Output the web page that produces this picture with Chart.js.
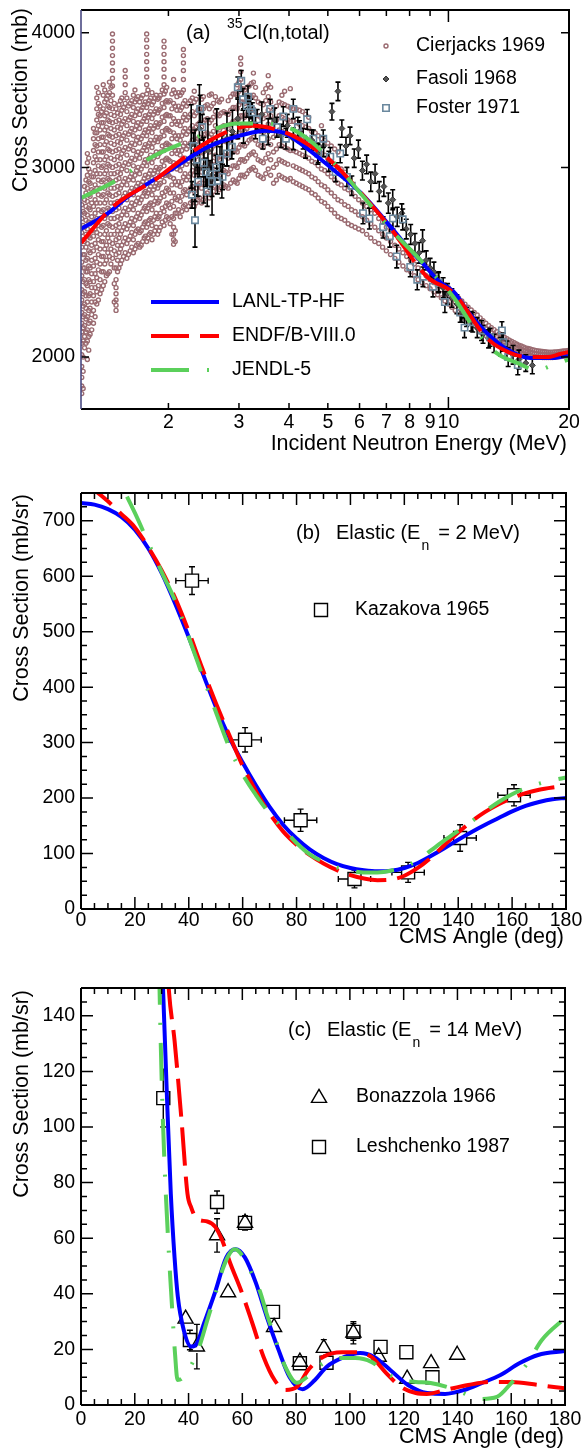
<!DOCTYPE html>
<html>
<head>
<meta charset="utf-8">
<title>35Cl cross sections</title>
<script src="https://cdn.jsdelivr.net/npm/chart.js@4.4.1/dist/chart.umd.min.js"></script>
<style>
  html, body { margin: 0; padding: 0; background: #fff; }
  #page { position: relative; width: 582px; height: 1453px; overflow: hidden; }
  #page canvas { position: absolute; left: 0; }
</style>
</head>
<body>
<div id="page">
  <canvas id="chartA" width="582" height="470" style="top:0px"></canvas>
  <canvas id="chartB" width="582" height="480" style="top:470px"></canvas>
  <canvas id="chartC" width="582" height="503" style="top:950px"></canvas>
</div>
<script>
// ---------------- panel (a): 35Cl(n,total) ----------------
const xTicksA = [2, 3, 4, 5, 6, 7, 8, 9, 10, 20];
const yTicksA = [2000, 3000, 4000];

// model curves (energy in MeV, cross section in mb)
const lanlE  = [1.21, 1.42, 1.56, 2.08, 2.52, 3.24, 3.5, 3.87, 4.26, 5.15, 6.02, 7.16, 8.02, 8.48, 9.45, 10.3, 11.3, 12.5, 14.0, 16.0, 18.2, 20.0];
const lanlS  = [2630, 2723, 2806, 3003, 3136, 3232, 3245, 3232, 3160, 2987, 2845, 2645, 2514, 2462, 2354, 2300, 2194, 2104, 2034, 1996, 1996, 2010];
const endfE  = [1.21, 1.45, 1.86, 2.29, 2.77, 3.24, 3.87, 4.26, 5.15, 6.12, 7.2, 8.84, 10.3, 12.5, 14.3, 16.0, 17.6, 19.0, 20.0];
const endfS  = [2553, 2756, 2925, 3101, 3232, 3280, 3238, 3184, 3029, 2827, 2630, 2375, 2293, 2082, 2017, 2000, 2000, 2013, 2022];
const jendlE = [1.21, 1.47, 1.82, 2.22, 2.99, 3.47, 4.19, 5.18, 6.1, 7.2, 8.5, 10.3, 11.7, 13.2, 15.0, 16.6, 18.2, 20.0];
const jendlS = [2810, 2912, 3068, 3170, 3296, 3296, 3238, 3029, 2825, 2625, 2462, 2273, 2117, 2017, 1972, 1945, 1966, 1990];

// Cierjacks 1969: energy columns and the cross sections read in each column
const cierE = [1.215, 1.235, 1.255, 1.275, 1.30, 1.325, 1.35, 1.375, 1.40, 1.425, 1.45, 1.48, 1.505, 1.53, 1.56, 1.59, 1.62, 1.65, 1.68, 1.71,
  1.74, 1.765, 1.79, 1.82, 1.85, 1.88, 1.91, 1.95, 1.98, 2.02, 2.06, 2.10, 2.14, 2.18, 2.22, 2.27, 2.32, 2.37, 2.42, 2.47,
  2.53, 2.59, 2.62, 2.68, 2.75, 2.82, 2.90, 2.97, 3.03, 3.10, 3.18, 3.26, 3.35, 3.45, 3.55, 3.66, 3.78, 3.90, 4.03, 4.17,
  4.32, 4.48, 4.65, 4.82, 5.00, 5.20, 5.40, 5.62, 5.85, 6.10, 6.40, 6.70, 7.00, 7.35, 7.70, 8.05, 8.40, 8.80, 9.20, 9.60,
  10.0, 10.4, 10.8, 11.2, 11.6, 12.0, 12.4, 12.8, 13.2, 13.6, 14.0, 14.4, 14.8, 15.2, 15.6, 16.0, 16.4, 16.8, 17.2, 17.6,
  18.0, 18.4, 18.8, 19.2, 19.6, 20.0];
const cierS = [
  [1850, 1880, 1915, 1960, 2010, 2060, 2110, 2150, 2200, 2260, 2310, 2380, 2450, 2530, 2610, 2690, 2770],
  [2040, 2090, 2140, 2190, 2240, 2300, 2360, 2420, 2490, 2560, 2640, 2720, 2800, 2880],
  [1990, 2070, 2120, 2180, 2250, 2330, 2400, 2470, 2550, 2630, 2710, 2790, 2870, 2950, 3030, 3090],
  [2100, 2160, 2220, 2290, 2350, 2420, 2500, 2580, 2660, 2740, 2820, 2900, 2970],
  [2150, 2210, 2280, 2350, 2430, 2510, 2590, 2670, 2760, 2850, 2940, 3030, 3110, 3190, 3260],
  [2240, 2300, 2370, 2450, 2530, 2610, 2690, 2780, 2870, 2960, 3050, 3140, 3230, 3320, 3400, 3480, 3560],
  [2290, 2360, 2440, 2520, 2600, 2690, 2780, 2870, 2960, 3050, 3150, 3250, 3350, 3420],
  [2330, 2400, 2480, 2560, 2650, 2740, 2830, 2920, 3010, 3100, 3200, 3300, 3400, 3500, 3580],
  [2380, 2460, 2540, 2620, 2710, 2800, 2890, 2980, 3070, 3170, 3270, 3370, 3470],
  [2400, 2480, 2560, 2650, 2740, 2830, 2920, 3010, 3110, 3210, 3310, 3410, 3520, 3600],
  [2470, 2550, 2640, 2730, 2820, 2910, 3000, 3100, 3200, 3300, 3400, 3500, 3570, 3630, 3690, 3750, 3810, 3870, 3930, 3990],
  [2210, 2235, 2260, 2290, 2320, 2360, 2420, 2490, 2570, 2650, 2740, 2830, 2920, 3010, 3110, 3210, 3310, 3400],
  [2420, 2500, 2580, 2660, 2750, 2840, 2930, 3020, 3120, 3220, 3320, 3430],
  [2460, 2540, 2620, 2710, 2800, 2890, 2990, 3090, 3190, 3290, 3390, 3480],
  [2500, 2580, 2660, 2750, 2840, 2930, 3030, 3130, 3230, 3330, 3440, 3520, 3580, 3640, 3690],
  [2490, 2570, 2650, 2740, 2830, 2920, 3020, 3120, 3220, 3320, 3420],
  [2530, 2610, 2690, 2780, 2870, 2960, 3060, 3160, 3260, 3360, 3460],
  [2520, 2600, 2680, 2770, 2860, 2950, 3050, 3150, 3250, 3350, 3450, 3540],
  [2550, 2630, 2720, 2810, 2900, 3000, 3100, 3200, 3300, 3400, 3490],
  [2540, 2620, 2710, 2800, 2890, 2990, 3090, 3190, 3290, 3390, 3480],
  [2580, 2660, 2750, 2840, 2930, 3030, 3130, 3230, 3330, 3430],
  [2560, 2640, 2730, 2820, 2910, 3010, 3110, 3210, 3310, 3410, 3510, 3580, 3640, 3700, 3760, 3820, 3880, 3940, 3990],
  [2600, 2680, 2770, 2860, 2960, 3060, 3160, 3260, 3360, 3460],
  [2570, 2650, 2740, 2830, 2930, 3030, 3130, 3230, 3330, 3430, 3520],
  [2620, 2700, 2790, 2880, 2980, 3080, 3180, 3280, 3380, 3480],
  [2600, 2690, 2780, 2870, 2970, 3070, 3170, 3270, 3370, 3470],
  [2640, 2720, 2810, 2900, 3000, 3100, 3200, 3300, 3400, 3500],
  [2650, 2730, 2820, 2910, 3010, 3110, 3210, 3310, 3410, 3510, 3580, 3640, 3700, 3760, 3820, 3880, 3930],
  [2700, 2780, 2870, 2960, 3060, 3160, 3260, 3360, 3460, 3560],
  [2660, 2750, 2840, 2940, 3040, 3140, 3240, 3350, 3460],
  [2545, 2570, 2600, 2640, 2690, 2760, 2840, 2930, 3030, 3130, 3230, 3330, 3440, 3540, 3620],
  [2720, 2800, 2890, 2990, 3090, 3190, 3290, 3390, 3490],
  [2700, 2790, 2880, 2980, 3080, 3180, 3280, 3390, 3500],
  [2760, 2850, 2940, 3040, 3140, 3240, 3340, 3440, 3540, 3620, 3690, 3750, 3810, 3860],
  [2740, 2830, 2920, 3020, 3120, 3220, 3320, 3420],
  [2780, 2870, 2960, 3060, 3160, 3260, 3360, 3460],
  [2760, 2850, 2950, 3050, 3150, 3250, 3350, 3450, 3530],
  [2800, 2890, 2990, 3090, 3190, 3290, 3390],
  [2780, 2870, 2970, 3070, 3170, 3270, 3370, 3470],
  [2830, 2920, 3020, 3120, 3220, 3320, 3420],
  [2810, 2900, 3000, 3100, 3200, 3300, 3400, 3500],
  [2850, 2940, 3040, 3140, 3240, 3340, 3440],
  [2880, 2980, 3080, 3180, 3280, 3380, 3490],
  [2860, 2950, 3050, 3150, 3250, 3350, 3450],
  [2890, 2980, 3080, 3180, 3280, 3380],
  [2870, 2960, 3060, 3160, 3260, 3360, 3460],
  [2920, 3010, 3110, 3210, 3310, 3410, 3510],
  [2900, 3000, 3100, 3200, 3300, 3400, 3500, 3580],
  [2950, 3050, 3150, 3250, 3350, 3450, 3550, 3620, 3680, 3740, 3790],
  [2940, 3040, 3140, 3240, 3340, 3440, 3540],
  [2980, 3080, 3180, 3280, 3380, 3480, 3570],
  [3000, 3100, 3200, 3300, 3400, 3500, 3600, 3670],
  [2950, 3050, 3150, 3250, 3350, 3450],
  [2930, 3030, 3130, 3230, 3330, 3430, 3520],
  [2990, 3090, 3190, 3290, 3390, 3490, 3580, 3650],
  [2900, 3000, 3100, 3200, 3300, 3400],
  [2950, 3050, 3150, 3250, 3350, 3450],
  [2930, 3030, 3130, 3230, 3330, 3430, 3530],
  [2930, 3110, 3210, 3310, 3410, 3550],
  [2900, 3000, 3100, 3200, 3300, 3400],
  [2880, 2980, 3080, 3180, 3280, 3380],
  [2860, 2960, 3060, 3160, 3260, 3340],
  [2830, 2930, 3030, 3130, 3230],
  [2790, 2890, 2990, 3090, 3190, 3280],
  [2760, 2860, 2960, 3060, 3160],
  [2720, 2820, 2920, 3020, 3120],
  [2690, 2790, 2890, 2990],
  [2660, 2760, 2860],
  [2640, 2730, 2820],
  [2620, 2700, 2780],
  [2580, 2660, 2740],
  [2550, 2620, 2690],
  [2510, 2580, 2640],
  [2470, 2540, 2600],
  [2430, 2500, 2550],
  [2400, 2460, 2510],
  [2360, 2420, 2470],
  [2330, 2380, 2430],
  [2300, 2345, 2390],
  [2270, 2310, 2350],
  [2240, 2280, 2320],
  [2210, 2250, 2285],
  [2185, 2220, 2255],
  [2160, 2195, 2225],
  [2140, 2170, 2200],
  [2115, 2145, 2175],
  [2095, 2125, 2150],
  [2080, 2105, 2130],
  [2065, 2090, 2112],
  [2050, 2073, 2095],
  [2040, 2060, 2080],
  [2030, 2050, 2068],
  [2022, 2040, 2057],
  [2015, 2032, 2048],
  [2010, 2026, 2040],
  [2005, 2020, 2035],
  [2002, 2016, 2030],
  [2000, 2013, 2026],
  [1998, 2011, 2024],
  [1998, 2010, 2022],
  [1998, 2010, 2021],
  [1999, 2011, 2022],
  [2001, 2012, 2023],
  [2003, 2014, 2025],
  [2005, 2016, 2027],
  [2008, 2019, 2030]
];
// Cierjacks 1969: the columns lying between the ones above
const cierE2 = [1.225, 1.245, 1.265, 1.287, 1.312, 1.337, 1.362, 1.387, 1.412, 1.437, 1.465, 1.493, 1.518, 1.545, 1.575, 1.605, 1.635, 1.665, 1.695, 1.725,
  1.752, 1.778, 1.805, 1.835, 1.865, 1.895, 1.93, 1.965, 2.00, 2.04, 2.08, 2.12, 2.16, 2.20, 2.245, 2.295, 2.345, 2.395, 2.445, 2.50,
  2.56, 2.65, 2.715, 2.785, 2.86, 2.935, 3.00, 3.065, 3.14, 3.22, 3.30, 3.40, 3.50, 3.60, 3.72, 3.84, 3.97, 4.10, 4.25, 4.40,
  4.56, 4.73, 4.91, 5.10, 5.30, 5.51, 5.73, 5.97, 6.25, 6.55, 6.85, 7.17, 7.52, 7.87, 8.22, 8.60, 9.00, 9.40, 9.80, 10.2,
  10.6, 11.0, 11.4, 11.8, 12.2, 12.6, 13.0, 13.4, 13.8, 14.2, 14.6, 15.0, 15.4, 15.8, 16.2, 16.6, 17.0, 17.4, 17.8, 18.2,
  18.6, 19.0, 19.4, 19.8];
const cierS2 = [
  [1870, 1940, 2000, 2070, 2130, 2180, 2230, 2290, 2350, 2420, 2490, 2570, 2650, 2730],
  [2060, 2110, 2170, 2220, 2280, 2340, 2400, 2460, 2530, 2600, 2680, 2760, 2840, 2920],
  [2030, 2090, 2150, 2210, 2280, 2360, 2430, 2510, 2590, 2670, 2750, 2830, 2910, 2990, 3060],
  [2120, 2190, 2250, 2320, 2390, 2460, 2540, 2620, 2700, 2780, 2860, 2940],
  [2180, 2250, 2320, 2390, 2470, 2550, 2630, 2720, 2800, 2890, 2980, 3070, 3150, 3230],
  [2260, 2330, 2410, 2490, 2570, 2650, 2740, 2830, 2920, 3010, 3100, 3190, 3280, 3360, 3440, 3520],
  [2310, 2400, 2480, 2560, 2640, 2730, 2820, 2910, 3000, 3100, 3200, 3300, 3380],
  [2350, 2440, 2520, 2600, 2690, 2780, 2870, 2960, 3050, 3150, 3250, 3350, 3450, 3540],
  [2390, 2500, 2580, 2660, 2750, 2840, 2930, 3020, 3120, 3220, 3320, 3420, 3500],
  [2440, 2520, 2600, 2690, 2780, 2870, 2960, 3060, 3160, 3260, 3360, 3460, 3560],
  [2250, 2340, 2420, 2510, 2600, 2690, 2780, 2870, 2960, 3050, 3150, 3250, 3350, 3440],
  [2400, 2460, 2540, 2620, 2700, 2790, 2880, 2970, 3070, 3170, 3270, 3370],
  [2440, 2520, 2600, 2690, 2780, 2870, 2960, 3060, 3160, 3260, 3360, 3460],
  [2480, 2560, 2640, 2730, 2820, 2910, 3010, 3110, 3210, 3310, 3410],
  [2470, 2550, 2630, 2710, 2800, 2890, 2980, 3080, 3180, 3280, 3380, 3480],
  [2510, 2590, 2670, 2760, 2850, 2940, 3040, 3140, 3240, 3340, 3440],
  [2500, 2570, 2650, 2740, 2830, 2920, 3010, 3110, 3210, 3310, 3410, 3500],
  [2540, 2620, 2700, 2790, 2880, 2980, 3080, 3180, 3280, 3380, 3470],
  [2530, 2610, 2690, 2780, 2870, 2960, 3060, 3160, 3260, 3360, 3450],
  [2560, 2640, 2730, 2820, 2910, 3010, 3110, 3210, 3310, 3410, 3500],
  [2590, 2670, 2760, 2850, 2950, 3050, 3150, 3250, 3350, 3450],
  [2580, 2660, 2750, 2840, 2940, 3040, 3140, 3240, 3340, 3440, 3540],
  [2610, 2690, 2780, 2880, 2980, 3080, 3180, 3280, 3380, 3480],
  [2600, 2680, 2770, 2860, 2960, 3060, 3160, 3260, 3360, 3450],
  [2640, 2720, 2810, 2900, 3000, 3100, 3200, 3300, 3400, 3500],
  [2620, 2700, 2790, 2890, 2990, 3090, 3190, 3290, 3390, 3480],
  [2670, 2750, 2840, 2940, 3040, 3140, 3240, 3340, 3440, 3540],
  [2680, 2760, 2850, 2950, 3050, 3150, 3250, 3350, 3450, 3530],
  [2690, 2770, 2860, 2950, 3050, 3150, 3250, 3350, 3450],
  [2600, 2700, 2790, 2890, 2990, 3090, 3190, 3290, 3400, 3510],
  [2560, 2620, 2720, 2810, 2910, 3010, 3110, 3210, 3310, 3420, 3520],
  [2740, 2820, 2910, 3010, 3110, 3210, 3310, 3420, 3520],
  [2730, 2820, 2910, 3010, 3110, 3210, 3310, 3410, 3520],
  [2770, 2860, 2960, 3060, 3160, 3260, 3360, 3460],
  [2760, 2850, 2940, 3040, 3140, 3240, 3340, 3440],
  [2790, 2880, 2980, 3080, 3180, 3280, 3380, 3480],
  [2780, 2870, 2970, 3070, 3170, 3270, 3370, 3470],
  [2810, 2900, 3000, 3100, 3200, 3300, 3400],
  [2800, 2900, 3000, 3100, 3200, 3300, 3400, 3490],
  [2840, 2930, 3030, 3130, 3230, 3330, 3430],
  [2830, 2920, 3020, 3120, 3220, 3320, 3420, 3510],
  [2870, 2960, 3060, 3160, 3260, 3360, 3460],
  [2880, 2970, 3070, 3170, 3270, 3370, 3470],
  [2880, 2970, 3070, 3170, 3270, 3370],
  [2900, 2990, 3090, 3190, 3290, 3390, 3490],
  [2910, 3010, 3110, 3210, 3310, 3410, 3510],
  [2930, 3030, 3130, 3230, 3330, 3430, 3530, 3600],
  [2950, 3050, 3150, 3250, 3350, 3450, 3550],
  [2960, 3060, 3160, 3260, 3360, 3460, 3560],
  [2990, 3090, 3190, 3290, 3390, 3490, 3590],
  [2980, 3080, 3180, 3280, 3380, 3480, 3560],
  [2940, 3040, 3140, 3240, 3340, 3440],
  [2960, 3060, 3160, 3260, 3360, 3460, 3550],
  [2950, 3050, 3150, 3250, 3350, 3450, 3560],
  [2920, 3020, 3120, 3220, 3320, 3420],
  [2940, 3040, 3140, 3240, 3340, 3440, 3500],
  [2920, 3020, 3120, 3220, 3320, 3420],
  [2910, 3010, 3110, 3210, 3310, 3400],
  [2890, 2990, 3090, 3190, 3290, 3390],
  [2870, 2970, 3070, 3170, 3270, 3360],
  [2840, 2940, 3040, 3140, 3240],
  [2810, 2910, 3010, 3110, 3210],
  [2780, 2880, 2980, 3080, 3180],
  [2740, 2840, 2940, 3040, 3140],
  [2700, 2800, 2900, 3000, 3100],
  [2680, 2770, 2870, 2970],
  [2650, 2740, 2840],
  [2630, 2710, 2800],
  [2600, 2680, 2760],
  [2560, 2640, 2720],
  [2530, 2600, 2670],
  [2490, 2560, 2620],
  [2450, 2520, 2580],
  [2410, 2480, 2530],
  [2380, 2440, 2490],
  [2345, 2400, 2450],
  [2315, 2360, 2410],
  [2285, 2330, 2370],
  [2255, 2295, 2335],
  [2225, 2265, 2300],
  [2200, 2235, 2270],
  [2172, 2208, 2240],
  [2150, 2182, 2212],
  [2128, 2158, 2188],
  [2105, 2135, 2162],
  [2088, 2115, 2140],
  [2072, 2097, 2121],
  [2058, 2081, 2103],
  [2045, 2067, 2087],
  [2035, 2055, 2074],
  [2026, 2045, 2062],
  [2018, 2036, 2052],
  [2012, 2029, 2044],
  [2007, 2023, 2037],
  [2003, 2018, 2032],
  [2001, 2014, 2028],
  [1999, 2012, 2025],
  [1998, 2010, 2023],
  [1998, 2010, 2021],
  [1998, 2010, 2021],
  [2000, 2011, 2022],
  [2002, 2013, 2024],
  [2004, 2015, 2026],
  [2006, 2017, 2028]
];

// Fasoli 1968
const fasE = [2.28, 2.33, 2.39, 2.45, 2.51, 2.57, 2.64, 2.72, 2.80, 2.89, 2.98, 3.08, 3.18, 3.30, 3.42, 3.55, 3.68, 3.82, 3.96, 4.10,
  4.25, 4.40, 4.56, 4.72, 4.88, 5.03, 5.12, 5.30, 5.42, 5.55, 5.68, 5.82, 5.96, 6.10, 6.25, 6.40, 6.56, 6.72, 6.90, 7.08,
  7.26, 7.45, 7.65, 7.85, 8.05, 8.25, 8.45, 8.62, 8.80, 9.00, 9.20, 9.45, 9.70, 9.95, 10.2, 10.5, 10.8, 11.1, 11.4, 11.8,
  12.2, 12.6, 13.0, 13.5, 14.0, 14.5, 15.0, 15.6, 16.2];
const fasS = [3150, 3020, 3260, 2990, 3110, 2950, 3160, 3010, 3190, 3240, 3330, 3280, 3380, 3290, 3360, 3240, 3320, 3210, 3280, 3190,
  3240, 3130, 3180, 3090, 3140, 3040, 3380, 3530, 3260, 3140, 3210, 3060, 3120, 2980, 3020, 2910, 2960, 2850, 2880, 2780,
  2800, 2700, 2720, 2630, 2600, 2550, 2500, 2565, 2460, 2420, 2400, 2350, 2320, 2290, 2270, 2240, 2200, 2180, 2160, 2130,
  2100, 2080, 2060, 2045, 2030, 2010, 1990, 1975, 1965];
const fasErr = [280, 230, 320, 210, 220, 240, 240, 200, 180, 150, 140, 120, 110, 100, 90, 90, 85, 80, 80, 75,
  75, 70, 70, 70, 70, 65, 60, 70, 60, 60, 60, 60, 60, 60, 60, 60, 60, 60, 60, 60,
  60, 55, 55, 55, 55, 55, 55, 60, 50, 50, 50, 50, 50, 50, 45, 45, 45, 45, 45, 45,
  40, 40, 40, 40, 40, 40, 40, 35, 35];

// Foster 1971
const fosE = [2.29, 2.31, 2.33, 2.36, 2.37, 2.40, 2.43, 2.45, 2.48, 2.50, 2.54, 2.57, 2.63, 2.65, 2.69, 2.73, 2.80, 2.88, 2.98, 3.04,
  3.07, 3.14, 3.16, 3.21, 3.24, 3.33, 3.44, 3.59, 3.73, 3.87, 3.93, 4.10, 4.21, 4.34, 4.44, 4.60, 4.73, 4.87, 5.07, 5.23,
  5.37, 5.58, 5.74, 6.12, 6.35, 6.87, 7.14, 7.27, 7.43, 7.69, 8.03, 8.36, 8.64, 9.15, 9.45, 9.80, 10.7, 10.97, 11.5, 12.1,
  12.7, 13.6, 13.7, 14.1, 14.9];
const fosS = [2830, 3140, 2680, 3050, 2910, 3400, 3270, 3030, 2970, 2850, 2955, 2910, 3000, 2915, 3055, 2940, 3090, 3135, 3560, 3610,
  3470, 3420, 3490, 3400, 3375, 3325, 3190, 3400, 3270, 3345, 3190, 3400, 3270, 3190, 3325, 3190, 3090, 3190, 3070, 2970,
  3090, 2940, 2885, 2720, 2690, 2640, 2590, 2690, 2480, 2685, 2425, 2360, 2375, 2325, 2345, 2250, 2200, 2130, 2155, 2117,
  2087, 2117, 2065, 2000, 1966];
const fosErr = [80, 90, 150, 90, 90, 100, 90, 90, 90, 90, 90, 90, 80, 80, 80, 80, 80, 80, 80, 80,
  80, 80, 80, 70, 70, 70, 70, 70, 70, 70, 70, 70, 70, 70, 70, 60, 60, 60, 60, 60,
  60, 60, 60, 60, 60, 60, 60, 60, 60, 60, 50, 50, 50, 50, 50, 50, 45, 45, 45, 45,
  40, 40, 40, 40, 40];

// ---------------- panel (b): elastic, En = 2 MeV ----------------
const angB   = [0, 5, 10, 15, 20, 25, 30, 35, 40, 45, 50, 55, 60, 65, 70, 75, 80, 85, 90, 95, 100, 105, 110, 115, 120, 125, 130, 135, 140, 145, 150, 155, 160, 165, 170, 175, 180];
const lanlB  = [732, 729, 721, 707, 684, 650, 605, 550, 490, 427, 365, 310, 264, 222, 184, 152, 127, 107, 92, 81, 74, 70, 68, 69, 74, 83, 96, 110, 125, 139, 152, 164, 176, 186, 193, 198, 200];
const endfB  = [770, 755, 735, 712, 688, 652, 610, 560, 500, 434, 372, 314, 258, 212, 172, 140, 116, 97, 82, 70, 61, 55, 52, 53, 60, 74, 93, 116, 138, 158, 175, 189, 200, 209, 215, 219, 222];
const jendlB = [850, 830, 805, 763, 714, 660, 607, 555, 490, 422, 356, 292, 243, 205, 172, 145, 119, 98, 85, 75, 69, 66, 66, 69, 76, 88, 106, 124, 141, 158, 176, 193, 207, 218, 226, 232, 237];
const kazAng  = [41.2, 60.9, 81.5, 101.5, 121.4, 140.7, 160.7];
const kazVal  = [592, 305, 160, 54, 66, 128, 205];
const kazErrY = [25, 22, 20, 16, 18, 24, 19];
const kazErrX = [6, 6, 6, 6, 6, 6, 6];

// ---------------- panel (c): elastic, En = 14 MeV ----------------
const lanlCa  = [29.5, 30.5, 32, 33.4, 34.8, 36, 38.2, 41, 43, 45.8, 50, 54, 57.5, 61, 65, 69, 73.4, 77.6, 82.4, 87, 91.3, 98, 103.8, 109, 115, 121.6, 128.7, 135.4, 142.5, 149, 156, 163, 170, 180];
const lanlCv  = [175, 150, 110, 76, 53, 39, 27, 21, 22, 29.5, 41, 53, 56, 53, 44, 32, 20, 10, 5.7, 9, 13.7, 17.3, 18.7, 17.3, 12.6, 7.2, 4.3, 4.0, 5.4, 7.9, 10.8, 15, 18, 19.4];
const endfCa  = [31.5, 32.7, 34.8, 37.5, 39.6, 41, 43, 47, 50, 52.6, 55.5, 59.6, 63.7, 67.9, 72, 76, 80.3, 84.5, 90, 97, 102, 108, 113.5, 119, 124.5, 128.6, 135.4, 144, 152, 160, 170, 180];
const endfCv  = [170, 149, 131, 101, 76, 71, 67, 66, 64, 59, 51, 41, 29.5, 17.3, 9, 5.4, 6.5, 12.6, 17.3, 19, 19, 17.3, 11.5, 6.5, 4.3, 4.0, 5.4, 7.2, 8.3, 8.3, 7.2, 6.0];
const jendlCa = [28.5, 29.2, 30, 31, 32, 33, 34, 35, 35.9, 37.5, 39.5, 41.6, 44, 47, 50, 52.6, 55, 57, 59, 62, 66.5, 69, 72, 76, 80.3, 84, 90, 97, 102, 108, 113.5, 119, 124.5, 130, 136, 141, 149, 154.7, 160, 166, 171.4, 180];
const jendlCv = [185, 150, 117, 88, 67, 49, 33, 18, 9, 9.5, 12, 15.5, 21, 30.6, 40, 48.6, 54, 56, 55, 50, 41, 33, 24.5, 13.7, 8, 10, 15, 16.9, 16.9, 15.5, 11.5, 9, 8.3, 7.9, 6.5, 4.7, 2.2, 2.9, 7.9, 15, 23.4, 31.3];
const bonAng = [38.9, 43.1, 50.6, 54.7, 61.0, 71.8, 81.4, 90.3, 101.3, 110.7, 121.3, 130.2, 139.9];
const bonVal = [31, 21, 61, 40.5, 65.5, 28, 15.5, 20.5, 26, 17.3, 9.4, 15, 18];
const bonErr = [0, 8, 6, 0, 2.5, 0, 0, 3, 4, 0, 0, 0, 0];
const lesAng = [30.6, 40.5, 50.6, 61.0, 71.4, 81.4, 91.3, 101.3, 111.4, 121.0, 130.7];
const lesVal = [110.4, 23.4, 73, 65.5, 33.5, 15, 15.2, 26.3, 20.9, 19, 10];
const lesErr = [10.4, 3.5, 4, 2.5, 2, 1.5, 1.5, 3, 0, 0, 0];

// ---------------- styling ----------------
const FONT = '"Liberation Sans", Arial, Helvetica, sans-serif';
Chart.defaults.font.family = FONT;
Chart.defaults.color = '#000';

const BLUE = '#0000ff', RED = '#ff0000', GREEN = '#5bd05b';
const PINK = '#9a6a70', STEEL = '#6a889e';
const DASH_ENDF = [38, 11], DASH_JENDL = [38, 18, 2, 18];
const TICK_FONT = { size: 19.5 };

function pts(xs, ys) { return xs.map((x, i) => ({ x: x, y: ys[i] })); }

function curve(label, xs, ys, color, dash, order) {
  return {
    label: label, data: pts(xs, ys), showLine: true, borderColor: color, borderWidth: 4,
    borderDash: dash, pointRadius: 0, pointHoverRadius: 0, cubicInterpolationMode: 'monotone',
    clip: 0, order: order
  };
}

function stepTicks(min, max, step) {
  const out = [];
  for (let v = min; v <= max + 1e-9; v += step) out.push({ value: v });
  return out;
}

// error bars drawn just before each dataset's markers
const errorBars = {
  id: 'errorBars',
  beforeDatasetDraw(chart, args) {
    const ds = chart.data.datasets[args.index];
    if (!ds.errY && !ds.errX) return;
    const ctx = chart.ctx, a = chart.chartArea;
    const xs = chart.scales.x, ys = chart.scales.y;
    const cap = ds.errCap || 0, gap = ds.errGap || 0;
    ctx.save();
    ctx.beginPath();
    ctx.rect(a.left, a.top, a.right - a.left, a.bottom - a.top);
    ctx.clip();
    ctx.strokeStyle = ds.errColor || '#000';
    ctx.lineWidth = ds.errWidth || 1.2;
    ctx.beginPath();
    ds.data.forEach((p, i) => {
      const px = xs.getPixelForValue(p.x), py = ys.getPixelForValue(p.y);
      const ey = ds.errY ? ds.errY[i] : 0;
      const ex = ds.errX ? ds.errX[i] : 0;
      if (ey) {
        const t = ys.getPixelForValue(p.y + ey), b = ys.getPixelForValue(p.y - ey);
        if (py - t > gap) {
          ctx.moveTo(px, py - gap); ctx.lineTo(px, t);
          if (cap) { ctx.moveTo(px - cap, t); ctx.lineTo(px + cap, t); }
        }
        if (b - py > gap) {
          ctx.moveTo(px, py + gap); ctx.lineTo(px, b);
          if (cap) { ctx.moveTo(px - cap, b); ctx.lineTo(px + cap, b); }
        }
      }
      if (ex) {
        const l = xs.getPixelForValue(p.x - ex), r = xs.getPixelForValue(p.x + ex);
        if (px - l > gap) {
          ctx.moveTo(px - gap, py); ctx.lineTo(l, py);
          if (cap) { ctx.moveTo(l, py - cap); ctx.lineTo(l, py + cap); }
        }
        if (r - px > gap) {
          ctx.moveTo(px + gap, py); ctx.lineTo(r, py);
          if (cap) { ctx.moveTo(r, py - cap); ctx.lineTo(r, py + cap); }
        }
      }
    });
    ctx.stroke();
    ctx.restore();
  }
};
Chart.register(errorBars);

// ROOT-like frame with inward tick marks on all four sides
function makeFrame(cfg) {
  return {
    id: 'frame',
    afterDatasetsDraw(chart) {
      const ctx = chart.ctx, a = chart.chartArea;
      const xs = chart.scales.x, ys = chart.scales.y;
      ctx.save();
      ctx.strokeStyle = '#000';
      ctx.lineWidth = 1.5;
      ctx.beginPath();
      xs.ticks.forEach(t => {
        const px = xs.getPixelForValue(t.value);
        if (px < a.left + 1 || px > a.right - 1) return;
        const len = cfg.xLen(t.value);
        ctx.moveTo(px, a.bottom); ctx.lineTo(px, a.bottom - len);
        ctx.moveTo(px, a.top); ctx.lineTo(px, a.top + len);
      });
      ys.ticks.forEach(t => {
        const py = ys.getPixelForValue(t.value);
        if (py < a.top + 1 || py > a.bottom - 1) return;
        const len = cfg.yLen(t.value);
        ctx.moveTo(a.left, py); ctx.lineTo(a.left + len, py);
        ctx.moveTo(a.right, py); ctx.lineTo(a.right - len, py);
      });
      ctx.stroke();
      ctx.lineWidth = 2;
      ctx.beginPath();
      ctx.moveTo(a.left, a.top); ctx.lineTo(a.right, a.top);
      ctx.lineTo(a.right, a.bottom); ctx.lineTo(a.left, a.bottom);
      ctx.stroke();
      ctx.strokeStyle = cfg.leftColor || '#000';
      ctx.lineWidth = cfg.leftWidth || 2;
      ctx.beginPath();
      ctx.moveTo(a.left, a.top); ctx.lineTo(a.left, a.bottom);
      ctx.stroke();
      ctx.restore();
    }
  };
}

function makeTexts(draw) {
  return { id: 'texts', afterDraw(chart) { const ctx = chart.ctx; ctx.save(); draw(ctx, chart); ctx.restore(); } };
}

function txt(ctx, s, x, y, size, align) {
  ctx.font = size + 'px ' + FONT;
  ctx.textAlign = align || 'left';
  ctx.textBaseline = 'middle';
  ctx.fillStyle = '#000';
  ctx.fillText(s, x, y);
  return ctx.measureText(s).width;
}

function yTitle(ctx, s, cx, yEnd, size) {
  ctx.save();
  ctx.translate(cx, yEnd);
  ctx.rotate(-Math.PI / 2);
  ctx.font = size + 'px ' + FONT;
  ctx.textAlign = 'right';
  ctx.textBaseline = 'middle';
  ctx.fillStyle = '#000';
  ctx.fillText(s, 0, 0);
  ctx.restore();
}

function marker(ctx, style, r, x, y, stroke, fill, lw) {
  ctx.save();
  ctx.strokeStyle = stroke;
  ctx.fillStyle = fill;
  ctx.lineWidth = lw;
  Chart.helpers.drawPoint(ctx, { pointStyle: style, radius: r, borderWidth: lw, rotation: 0 }, x, y);
  ctx.restore();
}

function legendLine(ctx, x1, x2, y, color, dash) {
  ctx.save();
  ctx.strokeStyle = color;
  ctx.lineWidth = 4;
  ctx.setLineDash(dash);
  ctx.beginPath(); ctx.moveTo(x1, y); ctx.lineTo(x2, y); ctx.stroke();
  ctx.restore();
}

function subTitle(ctx, label, x0, x1, y, rest) {
  txt(ctx, label, x0, y, 20);
  let x = x1 + txt(ctx, 'Elastic (E', x1, y, 20);
  x += 1 + txt(ctx, 'n', x + 1, y + 13, 14);
  txt(ctx, rest, x + 9, y, 20);
}

function baseOptions(padding, scales) {
  return {
    responsive: false, animation: false, devicePixelRatio: 1, events: [],
    layout: { padding: padding },
    plugins: { legend: { display: false }, tooltip: { enabled: false }, title: { display: false } },
    scales: scales
  };
}

function linAxis(min, max, step, labelEvery, boxSize, pad, horizontal) {
  return {
    type: 'linear', min: min, max: max,
    afterBuildTicks: s => { s.ticks = stepTicks(min, max, step); },
    afterFit: s => {
      if (horizontal) s.height = boxSize; else s.width = boxSize;
      s.paddingLeft = 0; s.paddingRight = 0; s.paddingTop = 0; s.paddingBottom = 0;
    },
    ticks: {
      autoSkip: false, maxRotation: 0, minRotation: 0, padding: pad, font: TICK_FONT, color: '#000',
      callback: v => (Math.abs(v % labelEvery) < 1e-6 ? String(v) : '')
    },
    grid: { display: false, drawTicks: false },
    border: { display: false }
  };
}

// ---------------- chart (a) ----------------
const cierPts = [];
cierE.forEach((e, i) => (cierS[i] || []).forEach(s => cierPts.push({ x: e, y: s })));
cierE2.forEach((e, i) => (cierS2[i] || []).forEach(s => cierPts.push({ x: e, y: s })));

new Chart(document.getElementById('chartA'), {
  type: 'scatter',
  data: {
    datasets: [
      { label: 'Cierjacks 1969', data: cierPts, pointStyle: 'circle', pointRadius: 2.0, pointBorderWidth: 1.4,
        pointBorderColor: PINK, pointBackgroundColor: 'rgba(0,0,0,0)', clip: 0, order: 10 },
      { label: 'Fasoli 1968', data: pts(fasE, fasS), errY: fasErr, errCap: 2.5, errColor: '#000', errWidth: 1.6,
        pointStyle: 'rectRot', pointRadius: 3, pointBorderWidth: 1, pointBorderColor: '#333',
        pointBackgroundColor: '#555', clip: 0, order: 9 },
      { label: 'Foster 1971', data: pts(fosE, fosS), errY: fosErr, errCap: 2.5, errGap: 3, errColor: '#000', errWidth: 1.6,
        pointStyle: 'rect', pointRadius: 4.5, pointBorderWidth: 1.6, pointBorderColor: STEEL,
        pointBackgroundColor: 'rgba(0,0,0,0)', clip: 0, order: 8 },
      curve('LANL-TP-HF', lanlE, lanlS, BLUE, [], 3),
      curve('ENDF/B-VIII.0', endfE, endfS, RED, DASH_ENDF, 2),
      curve('JENDL-5', jendlE, jendlS, GREEN, DASH_JENDL, 1)
    ]
  },
  options: baseOptions({ left: 0, right: 13, top: 10, bottom: 0 }, {
    x: {
      type: 'logarithmic', min: 1.21, max: 20,
      afterBuildTicks: s => { s.ticks = xTicksA.map(v => ({ value: v })); },
      afterFit: s => { s.height = 61; s.paddingLeft = 0; s.paddingRight = 0; s.paddingTop = 0; s.paddingBottom = 0; },
      ticks: { autoSkip: false, maxRotation: 0, minRotation: 0, padding: 2, font: TICK_FONT, color: '#000', callback: v => String(v) },
      grid: { display: false, drawTicks: false }, border: { display: false }
    },
    y: {
      type: 'logarithmic', min: 1790, max: 4200,
      afterBuildTicks: s => { s.ticks = yTicksA.map(v => ({ value: v })); },
      afterFit: s => { s.width = 81; s.paddingLeft = 0; s.paddingRight = 0; s.paddingTop = 0; s.paddingBottom = 0; },
      ticks: { autoSkip: false, padding: 6, font: TICK_FONT, color: '#000', callback: v => String(v) },
      grid: { display: false, drawTicks: false }, border: { display: false }
    }
  }),
  plugins: [
    makeFrame({ xLen: v => (v === 10 ? 12 : 6), yLen: () => 8, leftColor: '#4a4a82', leftWidth: 1.6 }),
    makeTexts(ctx => {
      txt(ctx, '(a)', 186, 33, 20);
      txt(ctx, '35', 227, 24, 14);
      txt(ctx, 'Cl(n,total)', 243, 33, 20);
      marker(ctx, 'circle', 2.0, 386, 46, PINK, 'rgba(0,0,0,0)', 1.4);
      marker(ctx, 'rectRot', 3, 386, 79, '#333', '#555', 1);
      marker(ctx, 'rect', 4.5, 386, 108, STEEL, 'rgba(0,0,0,0)', 1.6);
      txt(ctx, 'Cierjacks 1969', 416, 46, 19.5);
      txt(ctx, 'Fasoli 1968', 416, 79, 19.5);
      txt(ctx, 'Foster 1971', 416, 108, 19.5);
      legendLine(ctx, 151, 219, 302, BLUE, []);
      legendLine(ctx, 151, 219, 336, RED, DASH_ENDF);
      legendLine(ctx, 151, 219, 370, GREEN, DASH_JENDL);
      txt(ctx, 'LANL-TP-HF', 232, 302, 19.5);
      txt(ctx, 'ENDF/B-VIII.0', 232, 336, 19.5);
      txt(ctx, 'JENDL-5', 232, 370, 19.5);
      yTitle(ctx, 'Cross Section (mb)', 21, 8, 21.5);
      txt(ctx, 'Incident Neutron Energy (MeV)', 567, 444, 21.5, 'right');
    })
  ]
});

// ---------------- chart (b) ----------------
new Chart(document.getElementById('chartB'), {
  type: 'scatter',
  data: {
    datasets: [
      { label: 'Kazakova 1965', data: pts(kazAng, kazVal), errY: kazErrY, errX: kazErrX, errCap: 3, errGap: 6.5,
        errWidth: 1.4, pointStyle: 'rect', pointRadius: 9.2, pointBorderWidth: 1.4, pointBorderColor: '#000',
        pointBackgroundColor: 'rgba(0,0,0,0)', clip: 0, order: 8 },
      curve('LANL-TP-HF', angB, lanlB, BLUE, [], 3),
      curve('ENDF/B-VIII.0', angB, endfB, RED, DASH_ENDF, 2),
      curve('JENDL-5', angB, jendlB, GREEN, DASH_JENDL, 1)
    ]
  },
  options: baseOptions({ left: 0, right: 16, top: 23, bottom: 0 }, {
    x: linAxis(0, 180, 5, 20, 41, 0, true),
    y: linAxis(0, 750, 25, 100, 81, 6, false)
  }),
  plugins: [
    makeFrame({ xLen: v => (v % 20 === 0 ? 12 : 6), yLen: v => (v % 100 === 0 ? 12 : 6) }),
    makeTexts(ctx => {
      subTitle(ctx, '(b)', 296, 336, 63, '= 2 MeV)');
      marker(ctx, 'rect', 9.2, 321, 140, '#000', 'rgba(0,0,0,0)', 1.4);
      txt(ctx, 'Kazakova 1965', 355, 140, 19.5);
      yTitle(ctx, 'Cross Section (mb/sr)', 22, 24, 21.5);
      txt(ctx, 'CMS Angle (deg)', 564, 467, 21.5, 'right');
    })
  ]
});

// ---------------- chart (c) ----------------
new Chart(document.getElementById('chartC'), {
  type: 'scatter',
  data: {
    datasets: [
      { label: 'Bonazzola 1966', data: pts(bonAng, bonVal), errY: bonErr, errCap: 3, errGap: 6.5, errWidth: 1.4,
        pointStyle: 'triangle', pointRadius: 8.7, pointBorderWidth: 1.4, pointBorderColor: '#000',
        pointBackgroundColor: 'rgba(0,0,0,0)', clip: 0, order: 9 },
      { label: 'Leshchenko 1987', data: pts(lesAng, lesVal), errY: lesErr, errCap: 3, errGap: 6.5, errWidth: 1.4,
        pointStyle: 'rect', pointRadius: 9.2, pointBorderWidth: 1.4, pointBorderColor: '#000',
        pointBackgroundColor: 'rgba(0,0,0,0)', clip: 0, order: 8 },
      curve('LANL-TP-HF', lanlCa, lanlCv, BLUE, [], 3),
      curve('ENDF/B-VIII.0', endfCa, endfCv, RED, DASH_ENDF, 2),
      curve('JENDL-5', jendlCa, jendlCv, GREEN, DASH_JENDL, 1)
    ]
  },
  options: baseOptions({ left: 0, right: 17, top: 38, bottom: 0 }, {
    x: linAxis(0, 180, 5, 20, 48, 3, true),
    y: linAxis(0, 150, 5, 20, 81, 6, false)
  }),
  plugins: [
    makeFrame({ xLen: v => (v % 20 === 0 ? 12 : 6), yLen: v => (v % 20 === 0 ? 12 : 6) }),
    makeTexts(ctx => {
      subTitle(ctx, '(c)', 288, 327, 80, '= 14 MeV)');
      marker(ctx, 'triangle', 8.7, 319, 148, '#000', 'rgba(0,0,0,0)', 1.4);
      txt(ctx, 'Bonazzola 1966', 356, 147, 19.5);
      marker(ctx, 'rect', 9.2, 319, 197, '#000', 'rgba(0,0,0,0)', 1.4);
      txt(ctx, 'Leshchenko 1987', 356, 197, 19.5);
      yTitle(ctx, 'Cross Section (mb/sr)', 22, 40, 21.5);
      txt(ctx, 'CMS Angle (deg)', 564, 487, 21.5, 'right');
    })
  ]
});
</script>
</body>
</html>
